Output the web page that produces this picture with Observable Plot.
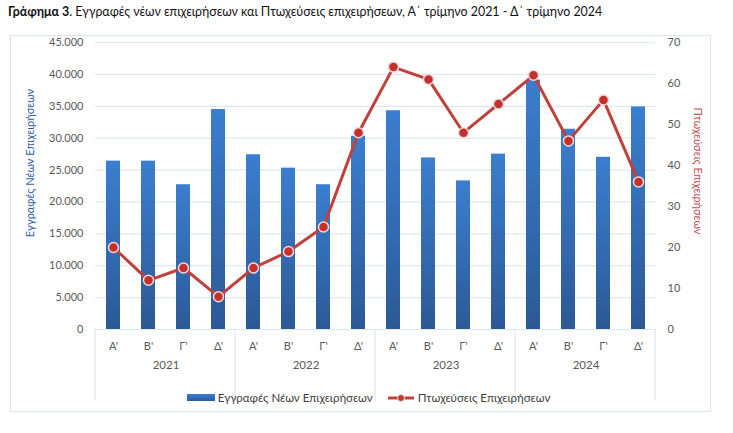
<!DOCTYPE html>
<html>
<head>
<meta charset="utf-8">
<script src="https://cdn.jsdelivr.net/npm/d3@7"></script>
<script src="https://cdn.jsdelivr.net/npm/@observablehq/plot@0.6"></script>
<style>
  html, body { margin: 0; padding: 0; background: white; }
  #wrap { position: relative; width: 733px; height: 433px; font-family: Lato, "Open Sans", sans-serif; }
  #title { position: absolute; left: 8px; top: 4px; font-size: 12.4px; color: #111; white-space: nowrap; }
  #box { position: absolute; left: 10px; top: 35px; width: 701px; height: 377px; border: 1.5px solid #dbe4f1; box-sizing: border-box; pointer-events: none; }
  #chart { position: absolute; left: 0; top: 0; }
  #legend { position: absolute; left: 0; width: 733px; top: 391px; display: flex; justify-content: center; gap: 14px; font-size: 11.5px; color: #404040; padding-left: 2px; }
  .item { display: flex; align-items: center; gap: 3px; }
  .bar { width: 28px; height: 7px; background: linear-gradient(#3b7ecf, #2c5a9a); }
</style>
</head>
<body>
<div id="wrap">
  <div id="title"><b>Γράφημα 3</b>. Εγγραφές νέων επιχειρήσεων και Πτωχεύσεις επιχειρήσεων, Α΄ τρίμηνο 2021 - Δ΄ τρίμηνο 2024</div>
  <div id="chart"></div>
  <div id="box"></div>
  <div id="legend">
    <div class="item"><span class="bar"></span><span>Εγγραφές Νέων Επιχειρήσεων</span></div>
    <div class="item"><svg width="28" height="10"><line x1="1" x2="27" y1="5" y2="5" stroke="#c0413b" stroke-width="3"/><circle cx="14" cy="5" r="3.5" fill="#c0392b" stroke="#f2dcdc" stroke-width="1"/></svg><span>Πτωχεύσεις Επιχειρήσεων</span></div>
  </div>
</div>
<script>
const years = ["2021", "2022", "2023", "2024"];
const quarters = ["Α'", "Β'", "Γ'", "Δ'"];
const registrations = [26400, 26400, 22700, 34500, 27400, 25300, 22700, 30300, 34300, 26900, 23300, 27500, 39100, 31400, 27000, 34900];
const bankruptcies = [20, 12, 15, 8, 15, 19, 25, 48, 64, 61, 48, 55, 62, 46, 56, 36];
const leftTicks = [0, 5000, 10000, 15000, 20000, 25000, 30000, 35000, 40000, 45000];
const rightTicks = [0, 10, 20, 30, 40, 50, 60, 70];
const leftMax = 45000, rightMax = 70;
const k = leftMax / rightMax;

const rows = [];
years.forEach((yr, i) => quarters.forEach((q, j) => {
  const n = i * 4 + j;
  rows.push({key: yr + "|" + q, year: yr, quarter: q, reg: registrations[n], bank: bankruptcies[n]});
}));
const keys = rows.map(d => d.key);

const fmt = d => d3.format(",")(d).replace(/,/g, ".");

const separators = (index, scales, values, dims) => {
  const g = d3.create("svg:g");
  const x0 = dims.marginLeft, x1 = dims.width - dims.marginRight;
  const yb = dims.height - dims.marginBottom;
  const step = (x1 - x0) / years.length;
  for (let i = 0; i <= years.length; i++) {
    g.append("line").attr("x1", x0 + i * step).attr("x2", x0 + i * step)
      .attr("y1", yb).attr("y2", yb + 71).attr("stroke", "#d6e0ee").attr("stroke-width", 1);
  }
  return g.node();
};

const plot = Plot.plot({
  width: 733,
  height: 433,
  marginTop: 42,
  marginBottom: 104,
  marginLeft: 95,
  marginRight: 78,
  style: {background: "transparent", fontFamily: "Lato, 'Open Sans', sans-serif", fontSize: "11px", color: "#595959"},
  x: {domain: keys, paddingInner: 0.6, paddingOuter: 0.3, axis: null},
  y: {domain: [0, leftMax], axis: null},
  marks: [
    Plot.gridY(leftTicks, {stroke: "#dfe7f3", strokeOpacity: 1, strokeWidth: 1.2}),
    Plot.axisY(leftTicks, {anchor: "left", tickSize: 0, tickPadding: 12, tickFormat: fmt, label: null, fill: "#595959", fontSize: 11}),
    Plot.axisY(rightTicks.map(v => v * k), {anchor: "right", tickSize: 0, tickPadding: 12, tickFormat: d => Math.round(d / k), label: null, fill: "#595959", fontSize: 11}),
    Plot.barY(rows, {x: "key", y: "reg", fill: "url(#barGrad)"}),
    Plot.line(rows, {x: "key", y: d => d.bank * k, stroke: "#c0413b", strokeWidth: 3}),
    Plot.dot(rows, {x: "key", y: d => d.bank * k, r: 5, fill: "#c5302b", stroke: "#efdada", strokeWidth: 1.5}),
    Plot.axisX(keys, {anchor: "bottom", tickSize: 0, tickPadding: 13, tickFormat: d => d.split("|")[1], label: null, fill: "#595959", fontSize: 11}),
    separators,
    Plot.text(years, {x: y => y + "|Β'", frameAnchor: "bottom", dx: 17.5, dy: 39, text: d => d, fill: "#595959", fontSize: 11.5}),
    Plot.text(["Εγγραφές Νέων Επιχειρήσεων"], {frameAnchor: "left", textAnchor: "middle", lineAnchor: "middle", dx: -65, dy: -23, rotate: -90, text: d => d, fill: "#2f5ea8", fontSize: 11}),
    Plot.text(["Πτωχεύσεις Επιχειρήσεων"], {frameAnchor: "right", textAnchor: "middle", lineAnchor: "middle", dx: 42, dy: -15, rotate: 90, text: d => d, fill: "#c0504d", fontSize: 11})
  ]
});

const defs = d3.select(plot).insert("defs", ":first-child");
const grad = defs.append("linearGradient").attr("id", "barGrad").attr("x1", 0).attr("y1", 0).attr("x2", 0).attr("y2", 1);
grad.append("stop").attr("offset", "0%").attr("stop-color", "#3b7ecf");
grad.append("stop").attr("offset", "100%").attr("stop-color", "#2c5996");

document.getElementById("chart").appendChild(plot);
</script>
</body>
</html>
